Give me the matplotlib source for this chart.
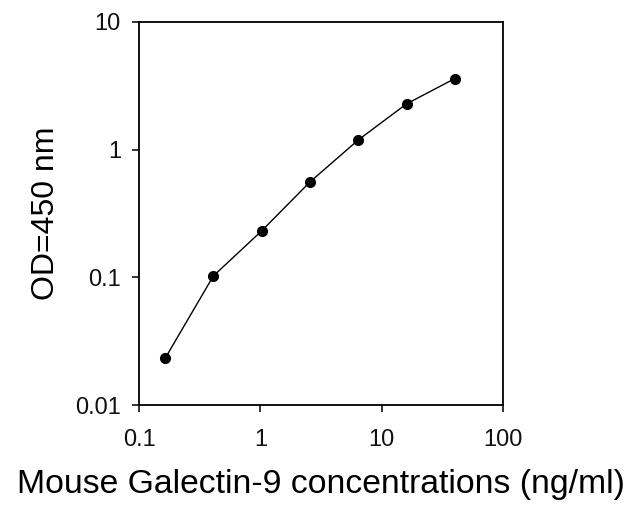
import matplotlib
matplotlib.use('Agg')
import matplotlib.pyplot as plt
from matplotlib.ticker import FixedLocator, FixedFormatter, NullLocator

# Standard curve data
conc = [0.164, 0.41, 1.024, 2.56, 6.4, 16, 40]
od = [0.0232, 0.1026, 0.231, 0.558, 1.19, 2.28, 3.6]

xticks = [0.1, 1, 10, 100]
xtick_labels = ['0.1', '1', '10', '100']
yticks = [0.01, 0.1, 1, 10]
ytick_labels = ['0.01', '0.1', '1', '10']

plt.rcParams['font.family'] = ['Liberation Sans', 'DejaVu Sans']

fig = plt.figure(figsize=(6.29, 5.2), dpi=100)
ax = fig.add_axes([0.221, 0.221, 0.579, 0.737])

ax.plot(conc, od, color='black', linewidth=1.0, marker='o',
        markersize=7, markerfacecolor='black', markeredgecolor='black')

ax.set_xscale('log')
ax.set_yscale('log')
ax.set_xlim(0.1, 100)
ax.set_ylim(0.01, 10)

ax.xaxis.set_major_locator(FixedLocator(xticks))
ax.xaxis.set_major_formatter(FixedFormatter(xtick_labels))
ax.xaxis.set_minor_locator(NullLocator())
ax.yaxis.set_major_locator(FixedLocator(yticks))
ax.yaxis.set_major_formatter(FixedFormatter(ytick_labels))
ax.yaxis.set_minor_locator(NullLocator())

ax.tick_params(axis='both', direction='out', length=5, width=1.2,
               labelsize=17, colors='#111111')
ax.tick_params(axis='x', pad=12)
ax.tick_params(axis='y', pad=8)
for s in ax.spines.values():
    s.set_linewidth(1.3)

ax.set_ylabel('OD=450 nm', fontsize=23, labelpad=10)
ax.set_xlabel('Mouse Galectin-9 concentrations (ng/ml)', fontsize=24.3, labelpad=13)

fig.savefig('out.png', dpi=100)
